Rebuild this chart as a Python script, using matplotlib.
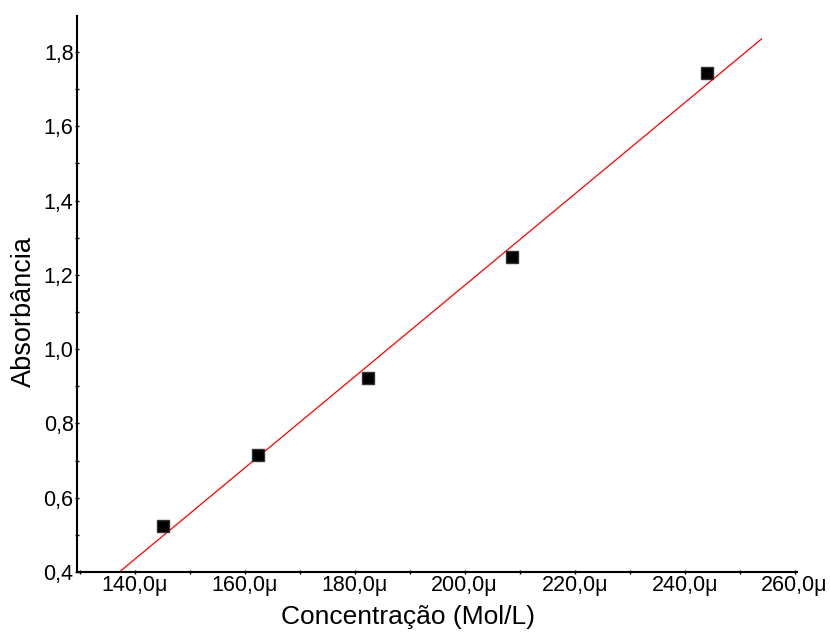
import matplotlib.pyplot as plt
import numpy as np
from matplotlib.ticker import FuncFormatter, MultipleLocator

plt.rcParams['font.family'] = ['Liberation Sans', 'DejaVu Sans']

# concentration in micromol/L, absorbance
conc = [145.1, 162.4, 182.4, 208.6, 244.0]
absorb = [0.524, 0.715, 0.922, 1.248, 1.743]
fit_range = [137.0, 254.0]


def draw_plt():
    fig = plt.figure(figsize=(8.3, 6.33), dpi=100)
    ax = fig.add_axes([0.0928, 0.0964, 0.8672, 0.8783])

    slope, inter = np.polyfit(conc, absorb, 1)
    xs = np.array(fit_range)
    ax.plot(xs, slope * xs + inter, color='red', lw=0.9, zorder=2)
    ax.plot(conc, absorb, 's', color='black', markeredgecolor='#333333',
            markersize=8.5, zorder=3)

    ax.set_xlim(129.5, 260.4)
    ax.set_ylim(0.4, 1.897)
    ax.xaxis.set_major_locator(MultipleLocator(20))
    ax.xaxis.set_minor_locator(MultipleLocator(10))
    ax.yaxis.set_major_locator(MultipleLocator(0.2))
    ax.yaxis.set_minor_locator(MultipleLocator(0.1))
    ax.xaxis.set_major_formatter(FuncFormatter(lambda v, p: ('%.1f' % v).replace('.', ',') + 'μ'))
    ax.yaxis.set_major_formatter(FuncFormatter(lambda v, p: ('%.1f' % v).replace('.', ',')))

    for s in ['top', 'right']:
        ax.spines[s].set_visible(False)
    for s in ['left', 'bottom']:
        ax.spines[s].set_linewidth(1.5)
    ax.tick_params(which='both', direction='inout', length=3, width=1,
                   labelsize=15.5, pad=1)

    ax.set_xlabel('Concentração (Mol/L)', fontsize=19)
    ax.set_ylabel('Absorbância', fontsize=19.5)
    ax.xaxis.set_label_coords(0.46, -0.06)
    ax.yaxis.set_label_coords(-0.055, 0.468)
    fig.savefig('out.png')


if __name__ == '__main__':
    draw_plt()
